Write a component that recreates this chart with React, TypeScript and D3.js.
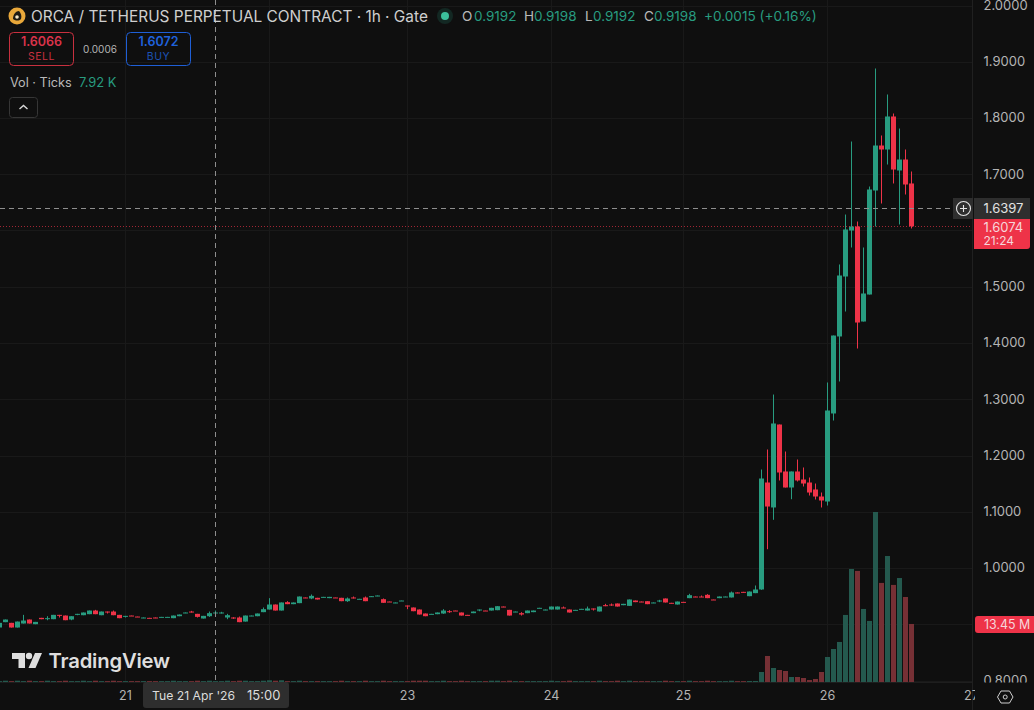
import React from "react";
import * as d3 from "d3";

const candleOpen = [
  .8942,.9037,.9025,.8942,.9013,.9084,.9001,.9114,.9102,.9090,.9167,.9155,.9084,.9173,.9161,.9179,.9244,.9161,.9226,.9226,.9167,.9137,.9155,.9137,.9108,.9114,.9120,.9126,.9126,.9108,.9143,.9197,.9226,.9185,.9102,.9143,.9203,.9203,.9120,.9120,.9120,.9048,.9143,.9143,
  .9215,.9262,.9351,.9244,.9393,.9357,.9375,.9476,.9458,.9470,.9476,.9464,.9476,.9470,.9410,.9476,.9446,.9476,.9487,.9499,.9446,.9404,.9375,.9416,.9333,.9298,.9262,.9191,.9179,.9179,.9191,.9232,.9244,.9209,.9167,.9197,.9250,.9244,.9244,.9250,.9315,.9256,
  .9215,.9197,.9197,.9215,.9286,.9250,.9262,.9262,.9298,.9262,.9250,.9268,.9244,.9280,.9227,.9339,.9351,.9369,.9339,.9327,.9422,.9404,.9410,.9375,.9410,.9458,.9381,.9351,.9398,.9464,.9493,.9493,.9523,.9440,.9464,.9482,.9476,.9565,.9576,.9499,.9553,
  .9618,1.1520,1.1076,1.2551,1.1716,1.1431,1.1716,1.1573,1.1520,1.1396,1.1271,1.1182,1.2747,1.4116,1.5182,1.6000,1.6071,1.4382,1.4862,1.6711,1.7511,1.7440,1.8027,1.7067,1.7262,1.6836,
];
const candleHigh = [
  .9025,.9084,.9025,.9048,.9167,.9084,.9042,.9114,.9143,.9167,.9167,.9155,.9143,.9185,.9209,.9244,.9256,.9226,.9226,.9244,.9167,.9149,.9155,.9137,.9120,.9114,.9120,.9131,.9131,.9155,.9173,.9209,.9238,.9185,.9149,.9226,.9244,.9221,.9185,.9126,.9137,.9155,.9155,.9191,
  .9298,.9464,.9351,.9387,.9410,.9387,.9493,.9476,.9529,.9470,.9487,.9487,.9476,.9470,.9476,.9493,.9452,.9493,.9499,.9511,.9458,.9404,.9387,.9422,.9333,.9298,.9262,.9191,.9185,.9209,.9268,.9250,.9244,.9209,.9167,.9226,.9262,.9244,.9292,.9321,.9315,.9256,
  .9226,.9215,.9244,.9244,.9292,.9262,.9315,.9315,.9315,.9262,.9256,.9274,.9315,.9280,.9315,.9363,.9369,.9369,.9363,.9440,.9422,.9404,.9410,.9387,.9434,.9458,.9381,.9404,.9398,.9541,.9493,.9511,.9535,.9440,.9493,.9493,.9582,.9565,.9576,.9582,.9689,
  1.1751,1.2107,1.3084,1.2551,1.2071,1.1716,1.1929,1.1787,1.1609,1.1502,1.1342,1.3298,1.4133,1.5396,1.6284,1.7582,1.6160,1.5698,1.6782,1.8880,1.7689,1.8418,1.8080,1.7813,1.7440,1.7049,
];
const candleLow = [
  .8942,.9037,.8942,.8942,.9013,.9013,.9001,.9090,.9072,.9090,.9120,.9072,.9072,.9161,.9161,.9179,.9179,.9161,.9191,.9161,.9108,.9120,.9149,.9131,.9108,.9108,.9108,.9126,.9126,.9108,.9143,.9197,.9209,.9120,.9102,.9131,.9203,.9191,.9090,.9096,.9037,.9048,.9143,.9143,
  .9215,.9262,.9244,.9244,.9357,.9357,.9375,.9464,.9446,.9440,.9476,.9464,.9470,.9410,.9398,.9458,.9446,.9410,.9487,.9499,.9381,.9398,.9375,.9416,.9268,.9232,.9173,.9143,.9179,.9179,.9185,.9203,.9238,.9155,.9161,.9197,.9232,.9238,.9244,.9250,.9303,.9155,
  .9215,.9155,.9197,.9215,.9286,.9250,.9262,.9262,.9286,.9209,.9250,.9268,.9244,.9244,.9227,.9321,.9327,.9315,.9339,.9327,.9393,.9393,.9357,.9375,.9393,.9387,.9369,.9351,.9392,.9464,.9482,.9482,.9464,.9434,.9464,.9482,.9476,.9553,.9565,.9499,.9553,
  .9612,1.0334,1.0857,1.1556,1.1431,1.1223,1.1538,1.1449,1.1289,1.1218,1.1076,1.1111,1.2622,1.3316,1.4560,1.5698,1.3902,1.4382,1.4862,1.6071,1.6480,1.7173,1.6836,1.6107,1.6640,1.6036,
];
const candleClose = [
  .9025,.9084,.8942,.9048,.9066,.9013,.9042,.9090,.9108,.9167,.9155,.9072,.9143,.9185,.9209,.9244,.9179,.9226,.9215,.9161,.9108,.9149,.9149,.9131,.9120,.9108,.9108,.9131,.9131,.9155,.9173,.9209,.9209,.9131,.9149,.9197,.9209,.9209,.9161,.9108,.9037,.9155,.9155,.9191,
  .9268,.9351,.9244,.9387,.9357,.9387,.9493,.9464,.9505,.9440,.9487,.9487,.9470,.9410,.9458,.9458,.9452,.9410,.9499,.9511,.9381,.9398,.9387,.9422,.9321,.9232,.9173,.9143,.9185,.9209,.9244,.9221,.9238,.9155,.9161,.9226,.9262,.9238,.9292,.9321,.9303,.9155,
  .9226,.9173,.9244,.9244,.9292,.9262,.9315,.9315,.9286,.9209,.9256,.9274,.9280,.9268,.9315,.9321,.9339,.9315,.9363,.9440,.9393,.9393,.9357,.9387,.9422,.9387,.9369,.9404,.9392,.9517,.9482,.9482,.9464,.9434,.9493,.9493,.9565,.9553,.9565,.9582,.9618,
  1.1591,1.1093,1.2569,1.1698,1.1431,1.1716,1.1556,1.1502,1.1342,1.1271,1.1200,1.2800,1.4133,1.5200,1.6018,1.6071,1.4364,1.4880,1.6729,1.7511,1.7440,1.8027,1.7084,1.7262,1.6818,1.6074,
];
const volumeMillions = [
  .2,.3,.2,.3,.2,.3,.2,.2,.3,.2,.2,.3,.2,.2,.3,.2,.3,.2,.2,.3,.2,.2,.2,.2,.2,.2,.2,.2,.2,.3,.2,.2,.2,.3,.2,.3,.2,.2,.3,.2,.3,.3,.2,.2,
  .3,.4,.3,.4,.2,.2,.3,.2,.2,.2,.2,.2,.2,.3,.2,.2,.2,.3,.2,.2,.3,.2,.2,.2,.2,.3,.3,.3,.2,.2,.3,.2,.2,.3,.2,.2,.2,.2,.3,.3,.2,.3,
  .2,.2,.2,.2,.2,.2,.3,.2,.2,.3,.2,.2,.2,.2,.3,.2,.2,.3,.2,.3,.2,.2,.2,.2,.2,.3,.2,.2,.2,.3,.2,.2,.3,.2,.2,.2,.3,.2,.2,
  .23,.23,2.32,6.03,3.25,2.78,2.55,1.16,1.16,.93,.46,.70,2.32,5.80,7.65,9.28,15.54,26.2,25.74,16.93,14.15,39.4,22.96,29.2,22.5,24.1,19.7,13.45,
];
const priceTicks = [2.0, 1.9, 1.8, 1.7, 1.6, 1.5, 1.4, 1.3, 1.2, 1.1, 1.0, 0.9, 0.8];
const hiddenPriceLabels = [1.6, 0.9];
const dayLabels = ["21", "22", "23", "24", "25", "26", "27"];
const dayIndex = [21, 45, 68, 92, 114, 138, 162];
const hiddenDayLabels = ["22"];
const ohlcItems = [
  { k: "O", v: "0.9192", kx: 462, vx: 474 },
  { k: "H", v: "0.9198", kx: 524, vx: 534 },
  { k: "L", v: "0.9192", kx: 585, vx: 593 },
  { k: "C", v: "0.9198", kx: 644, vx: 654 },
];
const crosshairPrice = 1.6397;
const lastPrice = 1.6074;
const crosshairIndex = 36;
const lastVolume = 13.45;

const W = 1034, H = 710;
const BG = "#0f0f0f", GRID = "#191919", GREEN = "#289c80", RED = "#ee3348";
const VGREEN = "#24594e", VRED = "#763035";
const AXIS = "#b4b4b4", LABEL = "#2e2e2e";
const FONT = "Inter, 'Noto Sans', sans-serif";

export default function App() {
  const x = d3.scaleLinear().domain([0, 152]).range([-0.5, 911.5]);
  const y = d3.scaleLinear().domain([0.8, 2.0]).range([680.5, 5.5]);
  const v = d3.scaleLinear().domain([0, 39.4]).range([682, 512]);
  const crossY = Math.round(y(crosshairPrice)) + 0.5;
  const lastY = Math.round(y(lastPrice)) + 0.5;
  const crossX = x(crosshairIndex);
  return (
    <svg width={W} height={H} viewBox={`0 0 ${W} ${H}`} fontFamily={FONT}
      style={{ position: "fixed", left: 0, top: 0, display: "block", background: BG }}>
      <defs>
        <clipPath id="axisClip"><rect x={973} y={0} width={61} height={682.5} /></clipPath>
        <clipPath id="timeClip"><rect x={0} y={682} width={975} height={28} /></clipPath>
      </defs>
      <rect width={W} height={H} fill={BG} />
      {priceTicks.map((p) => (
        <line key={p} x1={0} x2={972} y1={Math.round(y(p)) + 0.5} y2={Math.round(y(p)) + 0.5} stroke={GRID} />
      ))}
      {dayIndex.slice(0, 6).map((d) => (
        <line key={d} x1={x(d)} x2={x(d)} y1={0} y2={682} stroke={GRID} />
      ))}
      <line x1={972.5} x2={972.5} y1={0} y2={H} stroke="#202020" />
      <line x1={0} x2={972} y1={682.5} y2={682.5} stroke="#1e1e1e" />

      {volumeMillions.map((m, i) => (
        <rect key={i} x={x(i) - 2.5} y={v(m)} width={5} height={682 - v(m)}
          fill={candleClose[i] >= candleOpen[i] ? VGREEN : VRED} />
      ))}
      {candleOpen.map((o, i) => {
        const c = candleClose[i];
        const col = c >= o ? GREEN : RED;
        const top = y(Math.max(o, c));
        const h = Math.max(1, y(Math.min(o, c)) - top);
        return (
          <g key={i} fill={col}>
            <rect x={x(i) - 0.5} y={y(candleHigh[i])} width={1} height={y(candleLow[i]) - y(candleHigh[i])} />
            <rect x={x(i) - 2.5} y={top} width={5} height={h} />
          </g>
        );
      })}

      <line x1={0} x2={972} y1={lastY} y2={lastY} stroke={RED} strokeOpacity={0.65} strokeDasharray="1 2" />
      <line x1={crossX} x2={crossX} y1={0} y2={682} stroke="#8e8e8e" strokeDasharray="5 4" />
      <line x1={0} x2={955} y1={crossY} y2={crossY} stroke="#8e8e8e" strokeDasharray="5 4" />

      {/* watermark */}
      <g fill="#dedede">
        <path d="M12 653h13v15h-6.5v-9H12z" />
        <circle cx={29} cy={656} r={3.2} />
        <path d="M35 653h7l-6.5 15h-7z" />
        <text x={48.5} y={667.5} fontSize={20.3} fontWeight={600} letterSpacing={-0.2}>TradingView</text>
      </g>

      {/* header */}
      <circle cx={17} cy={16} r={8.5} fill="#e9a83a" />
      <path d="M13 19c0-5 3-8 6-8 2 2 3 5 2 8-2 2-5 2-8 0z" fill="#1d1a14" />
      <circle cx={17} cy={17} r={1.8} fill="#f3e6c8" />
      <text x={31} y={21.5} fontSize={15.4} fill="#cfcfcf">ORCA / TETHERUS PERPETUAL CONTRACT · 1h · Gate</text>
      <circle cx={445} cy={16} r={8} fill={GREEN} fillOpacity={0.18} />
      <circle cx={445} cy={16} r={4} fill="#3cc09c" />
      {ohlcItems.map((t) => (
        <g key={t.k} fontSize={13.5}>
          <text x={t.kx} y={21} fill="#b9b9b9">{t.k}</text>
          <text x={t.vx} y={21} fill={GREEN}>{t.v}</text>
        </g>
      ))}
      <text x={704} y={21} fontSize={13.6} fill={GREEN}>+0.0015 (+0.16%)</text>

      <rect x={9.5} y={32.5} width={64} height={33} rx={4} fill="none" stroke="#c8303f" />
      <text x={41.5} y={46} textAnchor="middle" fontSize={12.5} fontWeight={600} fill="#d9334a">1.6066</text>
      <text x={41.5} y={60} textAnchor="middle" fontSize={10.5} fill="#c8303f" letterSpacing={0.5}>SELL</text>
      <text x={100} y={53} textAnchor="middle" fontSize={10} fill="#b5b5b5">0.0006</text>
      <rect x={126.5} y={32.5} width={64} height={33} rx={4} fill="none" stroke="#1f5fd6" />
      <text x={158.5} y={46} textAnchor="middle" fontSize={12.5} fontWeight={600} fill="#1f62dc">1.6072</text>
      <text x={158.5} y={60} textAnchor="middle" fontSize={10.5} fill="#1c52b4" letterSpacing={0.5}>BUY</text>

      <text x={10} y={87} fontSize={12.7} fill="#b9b9b9">Vol · Ticks</text>
      <text x={79} y={87} fontSize={12.9} fill={GREEN}>7.92 K</text>
      <rect x={9.5} y={97.5} width={28} height={20} rx={3} fill={BG} stroke="#363636" />
      <path d="M19.5 109l4-3.5 4 3.5" fill="none" stroke="#d8d8d8" strokeWidth={1.4} />

      {/* price axis */}
      <g clipPath="url(#axisClip)" fontSize={13} fill={AXIS}>
        {priceTicks.filter((p) => !hiddenPriceLabels.includes(p)).map((p) => (
          <text key={p} x={983.5} y={y(p) + 4.4}>{p.toFixed(4)}</text>
        ))}
      </g>
      <rect x={953} y={198} width={20} height={21} fill={LABEL} />
      <circle cx={963.5} cy={208.5} r={7} fill="none" stroke="#e4e4e4" strokeWidth={1.1} />
      <path d="M963.5 205v7M960 208.5h7" stroke="#e4e4e4" strokeWidth={1.1} />
      <path d="M974 198h56v21h-56z" fill={LABEL} />
      <text x={983.5} y={213} fontSize={13} fill="#e2e2e2">{crosshairPrice.toFixed(4)}</text>
      <path d="M974 219h56v27a3 3 0 0 1-3 3h-53z" fill={RED} />
      <text x={983.5} y={232} fontSize={13} fill="#f6d6da">{lastPrice.toFixed(4)}</text>
      <text x={983.5} y={245} fontSize={12} fill="#f6d6da">21:24</text>
      <path d="M978 616h56v17h-56a3 3 0 0 1-3-3v-11a3 3 0 0 1 3-3z" fill={RED} />
      <text x={984} y={629} fontSize={12.4} fill="#f6d6da">{lastVolume.toFixed(2)} M</text>

      {/* time axis */}
      <g clipPath="url(#timeClip)" fontSize={12.6} fill={AXIS} textAnchor="middle">
        {dayLabels.map((d, i) => hiddenDayLabels.includes(d) ? null : (
          <text key={d} x={x(dayIndex[i])} y={700}>{d}</text>
        ))}
      </g>
      <rect x={143} y={682} width={146} height={26} rx={3} fill={LABEL} />
      <text x={152} y={700} fontSize={12.2} fill="#dcdcdc">Tue 21 Apr '26</text>
      <text x={247} y={700} fontSize={13} fill="#dcdcdc">15:00</text>
      <path d="M997.5 697l3.5-6h8.5l3.5 6-3.5 6H1001z" fill="none" stroke="#cfcfcf" strokeWidth={1} />
      <circle cx={1005.2} cy={697} r={2} fill="none" stroke="#cfcfcf" />
    </svg>
  );
}
